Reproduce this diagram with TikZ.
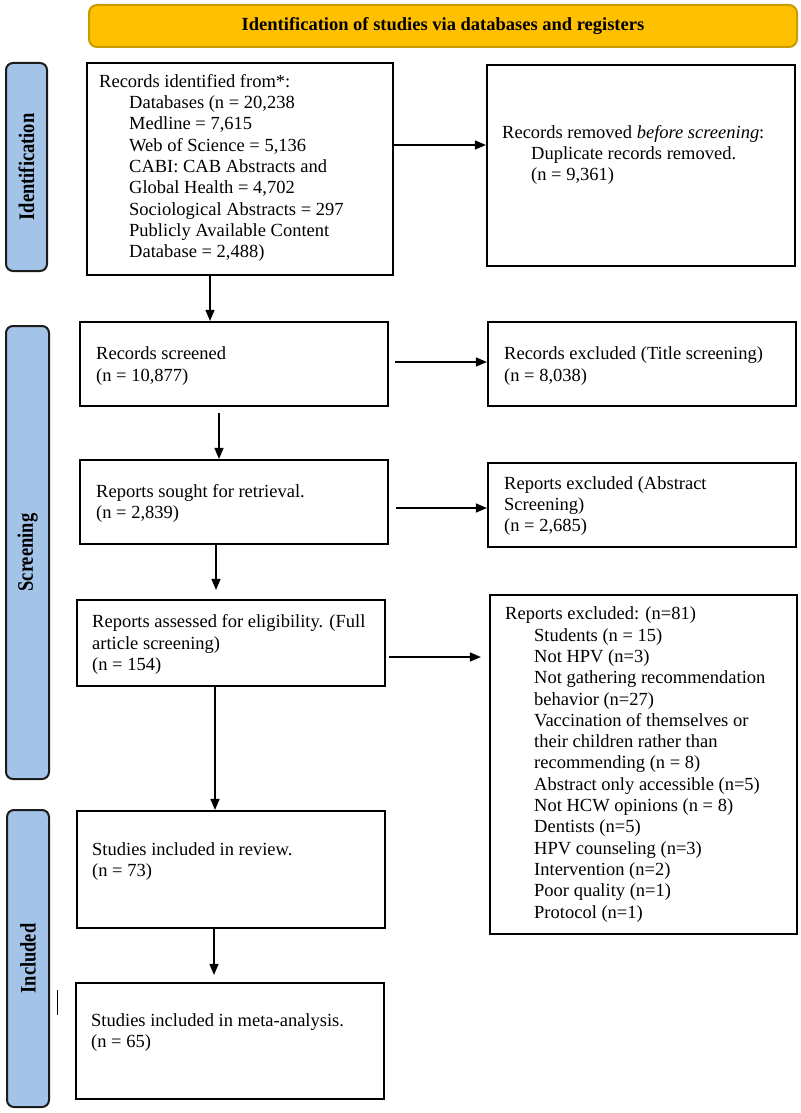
\documentclass[tikz,border=0pt]{standalone}
\usepackage{fontspec}
\setmainfont{Liberation Serif}
\usetikzlibrary{arrows.meta,calc}
\definecolor{gold}{HTML}{FFC000}
\definecolor{goldline}{HTML}{C89B00}
\definecolor{sideblue}{HTML}{A3C4E8}
\definecolor{sideline}{HTML}{1C1C1C}
\begin{document}
\begin{tikzpicture}[x=1pt,y=-1pt,
  box/.style={draw=black,line width=2.2pt,fill=white,inner sep=0pt},
  side/.style={draw=sideline,line width=2pt,fill=sideblue,rounded corners=7pt,inner sep=0pt},
  txt/.style={anchor=west,align=left,inner sep=0pt,font=\fontsize{18.5}{21.3}\selectfont},
  sidetxt/.style={rotate=90,inner sep=0pt,font=\fontsize{18.5}{22}\selectfont\bfseries},
  arr/.style={line width=1.4pt,-{Triangle[length=11pt,width=9pt]}},
]
\useasboundingbox (0,0) rectangle (800,1113);
\fill[white] (0,0) rectangle (800,1113);

% header
\node[draw=goldline,fill=gold,line width=2pt,rounded corners=8pt,minimum width=708pt,minimum height=42pt,inner sep=0pt,font=\fontsize{18.5}{22}\selectfont\bfseries] (hdr) at (443,26) {Identification of studies via databases and registers};

% side bars
\node[side,minimum width=41pt,minimum height=208pt] (sid1) at (26.5,167) {};
\node[sidetxt] (sid1t) at (sid1) {\scalebox{1}[1.2]{Identification}};
\node[side,minimum width=43pt,minimum height=453pt] (sid2) at (27.5,552.5) {};
\node[sidetxt] (sid2t) at (sid2) {\scalebox{1}[1.2]{Screening}};
\node[side,minimum width=42pt,minimum height=297pt] (sid3) at (28,958.5) {};
\node[sidetxt] (sid3t) at (sid3) {\scalebox{1}[1.2]{Included}};

% boxes
\node[box,minimum width=306pt,minimum height=212pt] (b1) at (240,169) {};
\node[box,minimum width=308pt,minimum height=201pt] (b2) at (641,165.5) {};
\node[box,minimum width=308pt,minimum height=84pt] (s1) at (234,364) {};
\node[box,minimum width=308pt,minimum height=84pt] (e1) at (642,364) {};
\node[box,minimum width=308pt,minimum height=84pt] (s2) at (234,502) {};
\node[box,minimum width=308pt,minimum height=84pt] (e2) at (642,505) {};
\node[box,minimum width=308pt,minimum height=86pt] (s3) at (231,643) {};
\node[box,minimum width=307pt,minimum height=339pt] (e3) at (643.5,764.5) {};
\node[box,minimum width=308pt,minimum height=117pt] (r1) at (231,869.5) {};
\node[box,minimum width=308pt,minimum height=116pt] (m1) at (230,1041) {};

% texts
\node[txt] (b1t) at (99,168) {Records identified from*:\\
\hspace*{30pt}Databases (n = 20,238\\
\hspace*{30pt}Medline = 7,615\\
\hspace*{30pt}Web of Science = 5,136\\
\hspace*{30pt}CABI: CAB Abstracts and\\
\hspace*{30pt}Global Health = 4,702\\
\hspace*{30pt}Sociological Abstracts = 297\\
\hspace*{30pt}Publicly Available Content\\
\hspace*{30pt}Database = 2,488)};
\node[txt] (b2t) at (502,155) {Records removed \textit{before screening}:\\
\hspace*{29pt}Duplicate records removed.\\
\hspace*{29pt}(n = 9,361)};
\node[txt] (s1t) at (96,366) {Records screened\\(n = 10,877)};
\node[txt] (e1t) at (504,366) {Records excluded (Title screening)\\(n = 8,038)};
\node[txt] (s2t) at (96,503.5) {Reports sought for retrieval.\\(n = 2,839)};
\node[txt] (e2t) at (504,506) {Reports excluded (Abstract\\Screening)\\(n = 2,685)};
\node[txt] (s3t) at (92,644.5) {Reports assessed for eligibility. (Full\\article screening)\\(n = 154)};
\node[txt] (e3t) at (505,764.5) {Reports excluded: (n=81)\\
\hspace*{29pt}Students (n = 15)\\
\hspace*{29pt}Not HPV (n=3)\\
\hspace*{29pt}Not gathering recommendation\\
\hspace*{29pt}behavior (n=27)\\
\hspace*{29pt}Vaccination of themselves or\\
\hspace*{29pt}their children rather than\\
\hspace*{29pt}recommending (n = 8)\\
\hspace*{29pt}Abstract only accessible (n=5)\\
\hspace*{29pt}Not HCW opinions (n = 8)\\
\hspace*{29pt}Dentists (n=5)\\
\hspace*{29pt}HPV counseling (n=3)\\
\hspace*{29pt}Intervention (n=2)\\
\hspace*{29pt}Poor quality (n=1)\\
\hspace*{29pt}Protocol (n=1)};
\node[txt] (r1t) at (92,861.5) {Studies included in review.\\(n = 73)};
\node[txt] (m1t) at (91,1032.5) {Studies included in meta-analysis.\\(n = 65)};

% horizontal arrows
\coordinate (a1) at ([yshift=24pt]b1.east);
\draw[arr] (a1) -- (a1 -| b2.west);
\coordinate (a2) at ([yshift=2pt]s1.east);
\draw[arr,shorten <=6pt] (a2) -- (a2 -| e1.west);
\coordinate (a3) at ([yshift=-6pt]s2.east);
\draw[arr,shorten <=7pt] (a3) -- (a3 -| e2.west);
\coordinate (a4) at ([yshift=-14pt]s3.east);
\draw[arr,shorten <=3pt,shorten >=8pt] (a4) -- (a4 -| e3.west);

% vertical arrows
\coordinate (d1) at ([xshift=-30pt]b1.south);
\draw[arr] (d1) -- (d1 |- s1.north);
\coordinate (d2) at ([xshift=-15pt]s1.south);
\draw[arr,shorten <=6pt] (d2) -- (d2 |- s2.north);
\coordinate (d3) at ([xshift=-18pt]s2.south);
\draw[arr,shorten >=9pt] (d3) -- (d3 |- s3.north);
\coordinate (d4) at ([xshift=-16pt]s3.south);
\draw[arr] (d4) -- (d4 |- r1.north);
\coordinate (d5) at ([xshift=-17pt]r1.south);
\draw[arr,shorten >=7pt] (d5) -- (d5 |- m1.north);

% stray mark
\draw[line width=1pt] (57,990) -- (57,1015);
\end{tikzpicture}
\end{document}
